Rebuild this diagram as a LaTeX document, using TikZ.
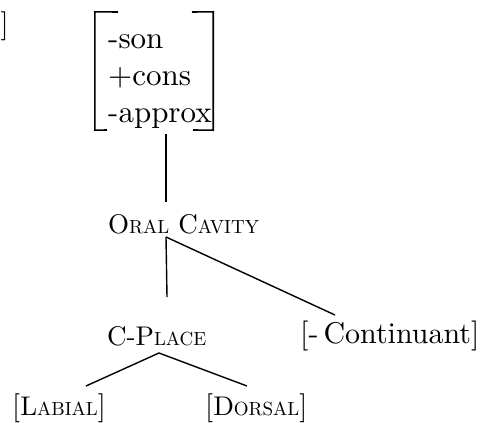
\documentclass[tikz,border=0pt]{standalone}
\usepackage{fontspec}
\setmainfont{lmroman10-regular.otf}
\newcommand{\mysc}[1]{{\fontsize{19}{19}\selectfont #1}}
\begin{document}
\begin{tikzpicture}[x=1pt,y=-1pt,
  lbl/.style={anchor=base west,inner sep=0pt,font=\fontsize{29}{35}\selectfont},
  capl/.style={anchor=base west,inner sep=0pt,font=\fontsize{27}{33}\selectfont},
  feattxt/.style={anchor=base west,inner sep=0pt,font=\fontsize{31}{37}\selectfont},
  edge/.style={line width=1.4pt},
  brk/.style={line width=1.6pt}]
\useasboundingbox (0,0) rectangle (485,423);
% cut-off bracket at top left
\node[lbl,anchor=base east] (cut) at (9,33) {]};
% feature matrix
\node[inner sep=0pt,minimum width=118pt,minimum height=118pt] (feat) at (154,71) {};
\draw[brk] (118,12) -- (feat.north west) -- (feat.south west) -- (107,130);
\draw[brk] (192,12) -- (feat.north east) -- (feat.south east) -- (193,130);
\node[feattxt] (son) at (108,48) {-son};
\node[feattxt] (cons) at (108,85) {+cons};
\node[feattxt] (approx) at (108,122) {-approx};
% tree
\node[capl] (oral) at (108,233) {O\mysc{RAL} C\mysc{AVITY}};
\node[capl] (cplace) at (107,345) {C-P\mysc{LACE}};
\node[lbl,font=\fontsize{30}{36}\selectfont] (cont) at (300,343) {[-\,Continuant]};
\node[capl] (lab) at (12,415) {{\fontsize{29}{29}\selectfont[}L\mysc{ABIAL}{\fontsize{29}{29}\selectfont]}};
\node[capl] (dor) at (205,415) {{\fontsize{29}{29}\selectfont[}D\mysc{ORSAL}{\fontsize{29}{29}\selectfont]}};
\coordinate (f1) at (166,134);
\coordinate (o1) at (166,202);
\coordinate (o2) at (166,237);
\coordinate (c1) at (167,297);
\coordinate (k1) at (335,315);
\coordinate (c2) at (159,353);
\coordinate (l1) at (86,386);
\coordinate (d1) at (247,386);
\draw[edge] (f1) -- (o1);
\draw[edge] (o2) -- (c1);
\draw[edge] (o2) -- (k1);
\draw[edge] (l1) -- (c2) -- (d1);
\end{tikzpicture}
\end{document}
